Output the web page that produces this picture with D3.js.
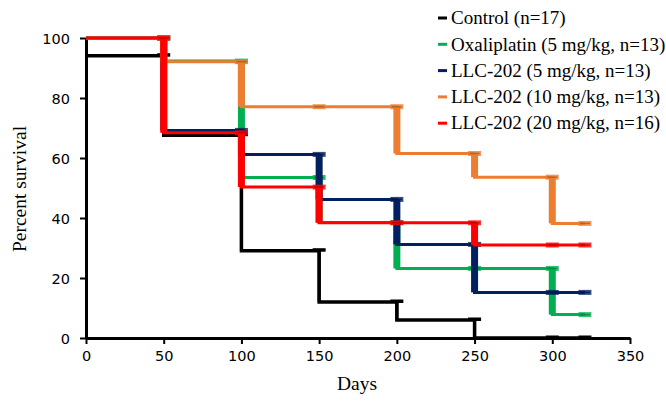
<!DOCTYPE html>
<html>
<head>
<meta charset="utf-8">
<script src="https://cdn.jsdelivr.net/npm/d3@7"></script>
<style>
  body { margin: 0; background: #fff; }
  .tick text { font-family: "DejaVu Sans", sans-serif; font-size: 14.5px; fill: #000; }
  .title { font-family: "Liberation Serif", "Times New Roman", serif; font-size: 19.5px; fill: #000; }
  .legend text { font-family: "Liberation Serif", "Times New Roman", serif; font-size: 19px; fill: #000; }
</style>
</head>
<body>
<div id="chart"></div>
<script>
// days where each curve has a point
const days = [0, 50, 100, 150, 200, 250, 300, 321];

// survival (%) from each day on
const control = [94.1, 67.6, 29.1, 12, 6, 0, 0, 0];
const oxaliplatin = [100, 92.3, 53.5, 38.5, 23.2, 23.2, 7.8, 7.8];
const llc5 = [100, 69.2, 61.2, 46.2, 31.2, 15.2, 15.2, 15.2];
const llc10 = [100, 92.1, 77.1, 77.1, 61.5, 53.6, 38.2, 38.2];
const llc20 = [100, 68.4, 50.3, 38.4, 38.4, 31, 31, 31];

const seriesNames = ["Control (n=17)", "Oxaliplatin (5 mg/kg, n=13)", "LLC-202 (5 mg/kg, n=13)",
    "LLC-202 (10 mg/kg, n=13)", "LLC-202 (20 mg/kg, n=16)"];
const seriesValues = [control, oxaliplatin, llc5, llc10, llc20];
const seriesColors = ["#000000", "#00B050", "#002060", "#ED7D31", "#FF0000"];

const xTicks = [0, 50, 100, 150, 200, 250, 300, 350];
const yTicks = [0, 20, 40, 60, 80, 100];

const width = 666, height = 403;

const svg = d3.select("#chart")
    .append("svg")
    .attr("width", width)
    .attr("height", height);

const x = d3.scaleLinear().domain([0, 350]).range([86, 630]);
const y = d3.scaleLinear().domain([0, 100]).range([338, 38]);

// axes
let xAxis = d3.axisBottom(x).tickValues(xTicks).tickSize(6).tickSizeOuter(0).tickPadding(7);
let yAxis = d3.axisLeft(y).tickValues(yTicks).tickSize(6).tickSizeOuter(0).tickPadding(10);

svg.append("g")
    .attr("transform", "translate(0," + y(0) + ")")
    .call(xAxis)
    .call(g => g.select(".domain").attr("stroke-width", 3))
    .call(g => g.selectAll(".tick line").attr("stroke-width", 2));

svg.append("g")
    .attr("transform", "translate(" + x(0) + ",0)")
    .call(yAxis)
    .call(g => g.select(".domain").attr("stroke-width", 3))
    .call(g => g.selectAll(".tick line").attr("stroke-width", 2))
    .call(g => g.selectAll(".tick text").attr("dy", "0.35em"));

// survival curves
const stepLine = d3.line()
    .x(d => x(d[0]))
    .y(d => y(d[1]))
    .curve(d3.curveStepAfter);

seriesValues.forEach((vals, s) => {
    let color = seriesColors[s];
    let pts = days.map((d, i) => [d, vals[i]]);
    let g = svg.append("g");

    g.append("path")
        .datum(pts)
        .attr("d", stepLine)
        .attr("fill", "none")
        .attr("stroke", color)
        .attr("stroke-width", s === 0 ? 3.5 : 3);

    // thick drops
    let drops = [];
    for (let i = 1; i < days.length; i++) {
        if (vals[i] !== vals[i - 1]) drops.push({ day: days[i], from: vals[i - 1], to: vals[i] });
    }
    g.selectAll("line.drop")
        .data(drops)
        .enter()
        .append("line")
        .attr("class", "drop")
        .attr("x1", d => x(d.day))
        .attr("x2", d => x(d.day))
        .attr("y1", d => y(d.from))
        .attr("y2", d => y(d.to))
        .attr("stroke", color)
        .attr("stroke-width", s === 0 ? 3 : 7);

    // dash markers at each point
    let marks = days.slice(1).map((d, i) => ({ day: d, val: vals[i] }));
    g.selectAll("rect.mark")
        .data(marks)
        .enter()
        .append("rect")
        .attr("class", "mark")
        .attr("x", d => x(d.day) - 6.5)
        .attr("y", d => y(d.val) - 2.5)
        .attr("width", 13)
        .attr("height", s === 0 ? 3.5 : 5)
        .attr("fill", color)
        .attr("fill-opacity", s === 0 ? 1 : 0.8);
    if (s > 0) {
        g.selectAll("line.mark")
            .data(marks)
            .enter()
            .append("line")
            .attr("class", "mark")
            .attr("x1", d => x(d.day) - 5)
            .attr("x2", d => x(d.day) + 5)
            .attr("y1", d => y(d.val))
            .attr("y2", d => y(d.val))
            .attr("stroke", d3.color(color).darker(0.9))
            .attr("stroke-opacity", 0.8)
            .attr("stroke-width", 1.5);
    }
});

// axis titles
svg.append("text")
    .attr("class", "title")
    .attr("x", 357)
    .attr("y", 390)
    .attr("text-anchor", "middle")
    .text("Days");

svg.append("text")
    .attr("class", "title")
    .attr("transform", "translate(26,189) rotate(-90)")
    .attr("text-anchor", "middle")
    .text("Percent survival");

// legend
const legend = svg.append("g")
    .attr("class", "legend")
    .attr("transform", "translate(438,18)");

seriesNames.forEach((name, i) => {
    legend.append("line")
        .attr("x1", 0)
        .attr("x2", 9)
        .attr("y1", i * 26.3)
        .attr("y2", i * 26.3)
        .attr("stroke", seriesColors[i])
        .attr("stroke-width", 3);
    legend.append("text")
        .attr("x", 13)
        .attr("y", i * 26.3)
        .attr("dy", "0.33em")
        .text(name);
});
</script>
</body>
</html>
